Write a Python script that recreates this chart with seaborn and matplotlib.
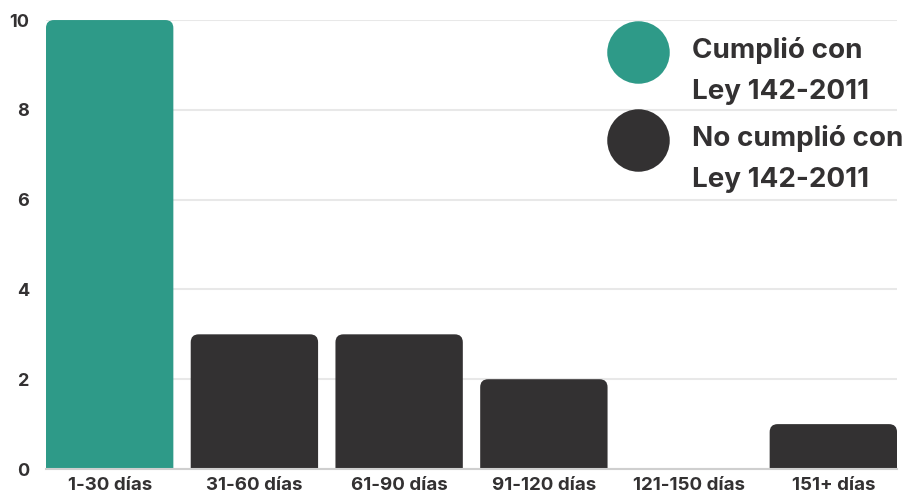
import pandas as pd
import seaborn as sns
import matplotlib.pyplot as plt
from matplotlib.patches import FancyBboxPatch
from matplotlib.lines import Line2D

# data
rangos = ["1-30 días", "31-60 días", "61-90 días", "91-120 días", "121-150 días", "151+ días"]
casos = [10, 3, 3, 2, 0, 1]
estado = ["Cumplió con\nLey 142-2011", "No cumplió con\nLey 142-2011", "No cumplió con\nLey 142-2011",
          "No cumplió con\nLey 142-2011", "No cumplió con\nLey 142-2011", "No cumplió con\nLey 142-2011"]
colores = {"Cumplió con\nLey 142-2011": "#2e9a88", "No cumplió con\nLey 142-2011": "#333132"}

df = pd.DataFrame({"rango": rangos, "casos": casos, "estado": estado})

sns.set_style("white")
plt.rcParams['font.family'] = ['Inter', 'DejaVu Sans']
plt.rcParams['font.weight'] = 'bold'

W, H = 907, 495
fig = plt.figure(figsize=(W / 100, H / 100), dpi=100)
ax = fig.add_axes([0.0507, 0.0525, 0.9383, 0.907])

sns.barplot(data=df, x="rango", y="casos", hue="estado", palette=colores,
            dodge=False, width=0.88, saturation=1, legend=False, ax=ax, zorder=3)

ax.set_xlim(-0.44, 5.44)
ax.set_ylim(0, 10)

# swap plain bars for bars with rounded top corners
px_x = 0.9383 * W / 5.88
px_y = 0.907 * H / 10
r = 8 / px_x
for p in list(ax.patches):
    x0, w, h = p.get_x(), p.get_width(), p.get_height()
    fc = p.get_facecolor()
    p.remove()
    if h <= 0:
        continue
    ext = 0.4
    fb = FancyBboxPatch((x0, -ext), w, h + ext,
                        boxstyle=f"round,pad=0,rounding_size={r}",
                        mutation_aspect=px_x / px_y,
                        facecolor=fc, edgecolor="none", zorder=3)
    ax.add_patch(fb)

ax.set_yticks([0, 2, 4, 6, 8, 10])
ax.yaxis.grid(True, color="#e8e8e8", linewidth=1.5, zorder=0)
ax.set_axisbelow(True)
for s in ["top", "right", "left"]:
    ax.spines[s].set_visible(False)
ax.spines["bottom"].set_color("#cfcfcf")
ax.spines["bottom"].set_linewidth(1.5)
ax.spines["bottom"].set_zorder(4)
ax.tick_params(axis="x", length=0, labelsize=13.5, labelcolor="#333132", pad=6)
ax.tick_params(axis="y", length=0, labelsize=13, labelcolor="#333132", pad=12)
for t in ax.get_xticklabels() + ax.get_yticklabels():
    t.set_fontweight("bold")
ax.set_xlabel("")
ax.set_ylabel("")

# legend: big dots with two-line labels, dot aligned with the first line
fila_y = [52, 140]
for (lab, col), yy in zip(colores.items(), fila_y):
    fig.add_artist(Line2D([638 / W], [1 - yy / H], marker="o", linestyle="",
                          markersize=45, markerfacecolor=col, markeredgecolor="none",
                          transform=fig.transFigure))
    fig.text(692 / W, 1 - (yy + 19) / H, lab, ha="left", va="center",
             fontsize=20, fontweight="bold", color="#333132", linespacing=1.75)

fig.savefig("out.png", dpi=100, facecolor="white")
